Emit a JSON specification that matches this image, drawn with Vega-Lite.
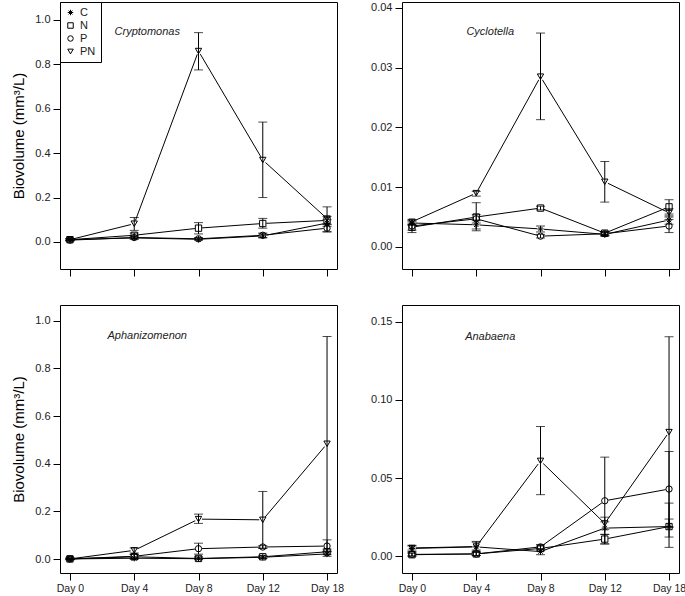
{
  "$schema": "https://vega.github.io/schema/vega-lite/v6.json",
  "background": "white",
  "padding": {"left": 11, "top": 1, "right": 0, "bottom": 0},
  "config": {
    "font": "Liberation Sans",
    "view": {"stroke": "black", "strokeWidth": 1},
    "axis": {"domain": false, "grid": false, "tickColor": "black", "tickSize": 7, "labelFontSize": 11, "labelColor": "#222", "labelPadding": 3, "titleFontWeight": "normal", "titleFontSize": 15, "titleColor": "black", "titlePadding": 8},
    "axisX": {"labelFontSize": 10.5}
  },
  "datasets": {
    "d": [
      {"taxon": "Cryptomonas", "trt": "C", "day": "Day 0", "mean": 0.010, "lo": 0.005, "hi": 0.015},
      {"taxon": "Cryptomonas", "trt": "C", "day": "Day 4", "mean": 0.018, "lo": 0.012, "hi": 0.025},
      {"taxon": "Cryptomonas", "trt": "C", "day": "Day 8", "mean": 0.012, "lo": 0.008, "hi": 0.016},
      {"taxon": "Cryptomonas", "trt": "C", "day": "Day 12", "mean": 0.027, "lo": 0.018, "hi": 0.036},
      {"taxon": "Cryptomonas", "trt": "C", "day": "Day 18", "mean": 0.085, "lo": 0.070, "hi": 0.100},
      {"taxon": "Cryptomonas", "trt": "N", "day": "Day 0", "mean": 0.010, "lo": 0.006, "hi": 0.014},
      {"taxon": "Cryptomonas", "trt": "N", "day": "Day 4", "mean": 0.030, "lo": 0.018, "hi": 0.040},
      {"taxon": "Cryptomonas", "trt": "N", "day": "Day 8", "mean": 0.062, "lo": 0.036, "hi": 0.087},
      {"taxon": "Cryptomonas", "trt": "N", "day": "Day 12", "mean": 0.083, "lo": 0.062, "hi": 0.106},
      {"taxon": "Cryptomonas", "trt": "N", "day": "Day 18", "mean": 0.097, "lo": 0.080, "hi": 0.115},
      {"taxon": "Cryptomonas", "trt": "P", "day": "Day 0", "mean": 0.008, "lo": 0.005, "hi": 0.012},
      {"taxon": "Cryptomonas", "trt": "P", "day": "Day 4", "mean": 0.020, "lo": 0.014, "hi": 0.028},
      {"taxon": "Cryptomonas", "trt": "P", "day": "Day 8", "mean": 0.014, "lo": 0.010, "hi": 0.020},
      {"taxon": "Cryptomonas", "trt": "P", "day": "Day 12", "mean": 0.030, "lo": 0.020, "hi": 0.040},
      {"taxon": "Cryptomonas", "trt": "P", "day": "Day 18", "mean": 0.062, "lo": 0.045, "hi": 0.078},
      {"taxon": "Cryptomonas", "trt": "PN", "day": "Day 0", "mean": 0.010, "lo": 0.006, "hi": 0.014},
      {"taxon": "Cryptomonas", "trt": "PN", "day": "Day 4", "mean": 0.082, "lo": 0.052, "hi": 0.110},
      {"taxon": "Cryptomonas", "trt": "PN", "day": "Day 8", "mean": 0.860, "lo": 0.775, "hi": 0.943},
      {"taxon": "Cryptomonas", "trt": "PN", "day": "Day 12", "mean": 0.369, "lo": 0.200, "hi": 0.540},
      {"taxon": "Cryptomonas", "trt": "PN", "day": "Day 18", "mean": 0.105, "lo": 0.046, "hi": 0.158},
      {"taxon": "Cyclotella", "trt": "C", "day": "Day 0", "mean": 0.0040, "lo": 0.0036, "hi": 0.0044},
      {"taxon": "Cyclotella", "trt": "C", "day": "Day 4", "mean": 0.0037, "lo": 0.0030, "hi": 0.0044},
      {"taxon": "Cyclotella", "trt": "C", "day": "Day 8", "mean": 0.0030, "lo": 0.0025, "hi": 0.0035},
      {"taxon": "Cyclotella", "trt": "C", "day": "Day 12", "mean": 0.0021, "lo": 0.0018, "hi": 0.0024},
      {"taxon": "Cyclotella", "trt": "C", "day": "Day 18", "mean": 0.0045, "lo": 0.0038, "hi": 0.0052},
      {"taxon": "Cyclotella", "trt": "N", "day": "Day 0", "mean": 0.0033, "lo": 0.0028, "hi": 0.0038},
      {"taxon": "Cyclotella", "trt": "N", "day": "Day 4", "mean": 0.0050, "lo": 0.0027, "hi": 0.0074},
      {"taxon": "Cyclotella", "trt": "N", "day": "Day 8", "mean": 0.0065, "lo": 0.0062, "hi": 0.0068},
      {"taxon": "Cyclotella", "trt": "N", "day": "Day 12", "mean": 0.0023, "lo": 0.0020, "hi": 0.0026},
      {"taxon": "Cyclotella", "trt": "N", "day": "Day 18", "mean": 0.0067, "lo": 0.0055, "hi": 0.0079},
      {"taxon": "Cyclotella", "trt": "P", "day": "Day 0", "mean": 0.0035, "lo": 0.0024, "hi": 0.0042},
      {"taxon": "Cyclotella", "trt": "P", "day": "Day 4", "mean": 0.0047, "lo": 0.0040, "hi": 0.0054},
      {"taxon": "Cyclotella", "trt": "P", "day": "Day 8", "mean": 0.0018, "lo": 0.0015, "hi": 0.0021},
      {"taxon": "Cyclotella", "trt": "P", "day": "Day 12", "mean": 0.0022, "lo": 0.0019, "hi": 0.0025},
      {"taxon": "Cyclotella", "trt": "P", "day": "Day 18", "mean": 0.0035, "lo": 0.0024, "hi": 0.0046},
      {"taxon": "Cyclotella", "trt": "PN", "day": "Day 0", "mean": 0.0042, "lo": 0.0038, "hi": 0.0046},
      {"taxon": "Cyclotella", "trt": "PN", "day": "Day 4", "mean": 0.0090, "lo": 0.0085, "hi": 0.0093},
      {"taxon": "Cyclotella", "trt": "PN", "day": "Day 8", "mean": 0.0285, "lo": 0.0213, "hi": 0.0358},
      {"taxon": "Cyclotella", "trt": "PN", "day": "Day 12", "mean": 0.0109, "lo": 0.0075, "hi": 0.0143},
      {"taxon": "Cyclotella", "trt": "PN", "day": "Day 18", "mean": 0.0057, "lo": 0.0050, "hi": 0.0064},
      {"taxon": "Aphanizomenon", "trt": "C", "day": "Day 0", "mean": 0.001, "lo": -0.002, "hi": 0.004},
      {"taxon": "Aphanizomenon", "trt": "C", "day": "Day 4", "mean": 0.004, "lo": 0.000, "hi": 0.008},
      {"taxon": "Aphanizomenon", "trt": "C", "day": "Day 8", "mean": 0.002, "lo": 0.000, "hi": 0.005},
      {"taxon": "Aphanizomenon", "trt": "C", "day": "Day 12", "mean": 0.008, "lo": 0.003, "hi": 0.013},
      {"taxon": "Aphanizomenon", "trt": "C", "day": "Day 18", "mean": 0.022, "lo": 0.012, "hi": 0.032},
      {"taxon": "Aphanizomenon", "trt": "N", "day": "Day 0", "mean": 0.001, "lo": -0.002, "hi": 0.004},
      {"taxon": "Aphanizomenon", "trt": "N", "day": "Day 4", "mean": 0.010, "lo": 0.002, "hi": 0.020},
      {"taxon": "Aphanizomenon", "trt": "N", "day": "Day 8", "mean": 0.003, "lo": 0.000, "hi": 0.010},
      {"taxon": "Aphanizomenon", "trt": "N", "day": "Day 12", "mean": 0.010, "lo": 0.004, "hi": 0.016},
      {"taxon": "Aphanizomenon", "trt": "N", "day": "Day 18", "mean": 0.031, "lo": 0.020, "hi": 0.042},
      {"taxon": "Aphanizomenon", "trt": "P", "day": "Day 0", "mean": 0.001, "lo": -0.002, "hi": 0.004},
      {"taxon": "Aphanizomenon", "trt": "P", "day": "Day 4", "mean": 0.012, "lo": 0.004, "hi": 0.020},
      {"taxon": "Aphanizomenon", "trt": "P", "day": "Day 8", "mean": 0.044, "lo": 0.021, "hi": 0.067},
      {"taxon": "Aphanizomenon", "trt": "P", "day": "Day 12", "mean": 0.051, "lo": 0.045, "hi": 0.057},
      {"taxon": "Aphanizomenon", "trt": "P", "day": "Day 18", "mean": 0.055, "lo": 0.030, "hi": 0.081},
      {"taxon": "Aphanizomenon", "trt": "PN", "day": "Day 0", "mean": 0.001, "lo": -0.002, "hi": 0.004},
      {"taxon": "Aphanizomenon", "trt": "PN", "day": "Day 4", "mean": 0.037, "lo": 0.026, "hi": 0.047},
      {"taxon": "Aphanizomenon", "trt": "PN", "day": "Day 8", "mean": 0.168, "lo": 0.150, "hi": 0.189},
      {"taxon": "Aphanizomenon", "trt": "PN", "day": "Day 12", "mean": 0.165, "lo": 0.046, "hi": 0.284},
      {"taxon": "Aphanizomenon", "trt": "PN", "day": "Day 18", "mean": 0.484, "lo": 0.034, "hi": 0.934},
      {"taxon": "Anabaena", "trt": "C", "day": "Day 0", "mean": 0.0050, "lo": 0.0030, "hi": 0.0070},
      {"taxon": "Anabaena", "trt": "C", "day": "Day 4", "mean": 0.0060, "lo": 0.0030, "hi": 0.0095},
      {"taxon": "Anabaena", "trt": "C", "day": "Day 8", "mean": 0.0030, "lo": 0.0010, "hi": 0.0050},
      {"taxon": "Anabaena", "trt": "C", "day": "Day 12", "mean": 0.0180, "lo": 0.0140, "hi": 0.0220},
      {"taxon": "Anabaena", "trt": "C", "day": "Day 18", "mean": 0.0190, "lo": 0.0057, "hi": 0.0340},
      {"taxon": "Anabaena", "trt": "N", "day": "Day 0", "mean": 0.0010, "lo": 0.0000, "hi": 0.0020},
      {"taxon": "Anabaena", "trt": "N", "day": "Day 4", "mean": 0.0015, "lo": 0.0005, "hi": 0.0025},
      {"taxon": "Anabaena", "trt": "N", "day": "Day 8", "mean": 0.0050, "lo": 0.0035, "hi": 0.0065},
      {"taxon": "Anabaena", "trt": "N", "day": "Day 12", "mean": 0.0110, "lo": 0.0080, "hi": 0.0140},
      {"taxon": "Anabaena", "trt": "N", "day": "Day 18", "mean": 0.0190, "lo": 0.0123, "hi": 0.0238},
      {"taxon": "Anabaena", "trt": "P", "day": "Day 0", "mean": 0.0012, "lo": 0.0003, "hi": 0.0021},
      {"taxon": "Anabaena", "trt": "P", "day": "Day 4", "mean": 0.0015, "lo": 0.0005, "hi": 0.0025},
      {"taxon": "Anabaena", "trt": "P", "day": "Day 8", "mean": 0.0060, "lo": 0.0045, "hi": 0.0075},
      {"taxon": "Anabaena", "trt": "P", "day": "Day 12", "mean": 0.0355, "lo": 0.0078, "hi": 0.0634},
      {"taxon": "Anabaena", "trt": "P", "day": "Day 18", "mean": 0.0430, "lo": 0.0190, "hi": 0.0670},
      {"taxon": "Anabaena", "trt": "PN", "day": "Day 0", "mean": 0.0053, "lo": 0.0040, "hi": 0.0066},
      {"taxon": "Anabaena", "trt": "PN", "day": "Day 4", "mean": 0.0062, "lo": 0.0040, "hi": 0.0090},
      {"taxon": "Anabaena", "trt": "PN", "day": "Day 8", "mean": 0.0610, "lo": 0.0394, "hi": 0.0830},
      {"taxon": "Anabaena", "trt": "PN", "day": "Day 12", "mean": 0.0210, "lo": 0.0170, "hi": 0.0250},
      {"taxon": "Anabaena", "trt": "PN", "day": "Day 18", "mean": 0.0794, "lo": 0.0184, "hi": 0.1404}
    ],
    "labels": [
      {"taxon": "Cryptomonas", "label": "Cryptomonas"},
      {"taxon": "Cyclotella", "label": "Cyclotella"},
      {"taxon": "Aphanizomenon", "label": "Aphanizomenon"},
      {"taxon": "Anabaena", "label": "Anabaena"}
    ]
  },
  "resolve": {"legend": {"shape": "independent"}},
  "columns": 2,
  "bounds": "flush",
  "align": "none",
  "spacing": {"row": 36, "column": 65},
  "concat": [
    {
      "width": 277, "height": 267,
      "layer": [
        {
          "data": {"name": "d"},
          "transform": [{"filter": "datum.taxon == 'Cryptomonas'"}],
          "mark": {"type": "line", "color": "black", "strokeWidth": 1},
          "encoding": {
            "x": {"field": "day", "type": "ordinal", "sort": ["Day 0", "Day 4", "Day 8", "Day 12", "Day 18"], "scale": {"type": "point", "padding": 0.155}, "axis": {"title": null, "labels": false, "labelAngle": 0}},
            "y": {"field": "mean", "type": "quantitative", "title": "Biovolume (mm³/L)", "scale": {"domain": [-0.122, 1.081], "nice": false, "zero": false}, "axis": {"values": [0, 0.2, 0.4, 0.6, 0.8, 1.0], "format": ".1f"}},
            "detail": {"field": "trt"}
          }
        },
        {
          "data": {"name": "d"},
          "transform": [{"filter": "datum.taxon == 'Cryptomonas'"}],
          "mark": {"type": "circle", "color": "white", "size": 50, "opacity": 1},
          "encoding": {
            "x": {"field": "day", "type": "ordinal", "sort": ["Day 0", "Day 4", "Day 8", "Day 12", "Day 18"]},
            "y": {"field": "mean", "type": "quantitative", "title": "Biovolume (mm³/L)"}
          }
        },
        {
          "data": {"name": "d"},
          "transform": [{"filter": "datum.taxon == 'Cryptomonas'"}],
          "mark": {"type": "point", "filled": false, "color": "black", "strokeWidth": 1, "size": 40, "opacity": 1},
          "encoding": {
            "x": {"field": "day", "type": "ordinal", "sort": ["Day 0", "Day 4", "Day 8", "Day 12", "Day 18"]},
            "y": {"field": "mean", "type": "quantitative", "title": "Biovolume (mm³/L)"},
            "shape": {"field": "trt", "type": "nominal", "scale": {"domain": ["C", "N", "P", "PN"], "range": ["M-1,0L1,0M0,-1L0,1M-0.7,-0.7L0.7,0.7M-0.7,0.7L0.7,-0.7", "square", "circle", "triangle-down"]},
              "legend": {"orient": "top-left", "offset": 0, "title": null, "strokeColor": "black", "fillColor": "white", "padding": 5, "rowPadding": 1, "labelFontSize": 11, "labelColor": "#222", "labelOffset": 4, "symbolStrokeColor": "black", "symbolStrokeWidth": 1, "symbolSize": 30, "cornerRadius": 0}}
          }
        },
        {
          "data": {"name": "d"},
          "transform": [{"filter": "datum.taxon == 'Cryptomonas'"}],
          "mark": {"type": "errorbar", "ticks": {"size": 9, "thickness": 1}, "color": "black", "thickness": 1},
          "encoding": {
            "x": {"field": "day", "type": "ordinal", "sort": ["Day 0", "Day 4", "Day 8", "Day 12", "Day 18"]},
            "y": {"field": "lo", "type": "quantitative", "title": "Biovolume (mm³/L)"},
            "y2": {"field": "hi"}
          }
        },
        {
          "data": {"name": "labels"},
          "transform": [{"filter": "datum.taxon == 'Cryptomonas'"}],
          "mark": {"type": "text", "fontStyle": "italic", "fontSize": 11, "color": "#222", "align": "center", "dx": 13},
          "encoding": {
            "x": {"datum": "Day 4", "type": "ordinal"},
            "y": {"datum": 0.946, "type": "quantitative", "title": "Biovolume (mm³/L)"},
            "text": {"field": "label"}
          }
        }
      ]
    },
    {
      "width": 277, "height": 267,
      "layer": [
        {
          "data": {"name": "d"},
          "transform": [{"filter": "datum.taxon == 'Cyclotella'"}],
          "mark": {"type": "line", "color": "black", "strokeWidth": 1},
          "encoding": {
            "x": {"field": "day", "type": "ordinal", "sort": ["Day 0", "Day 4", "Day 8", "Day 12", "Day 18"], "scale": {"type": "point", "padding": 0.155}, "axis": {"title": null, "labels": false, "labelAngle": 0}},
            "y": {"field": "mean", "type": "quantitative", "title": null, "scale": {"domain": [-0.0037, 0.041], "nice": false, "zero": false}, "axis": {"values": [0, 0.01, 0.02, 0.03, 0.04], "format": ".2f"}},
            "detail": {"field": "trt"}
          }
        },
        {
          "data": {"name": "d"},
          "transform": [{"filter": "datum.taxon == 'Cyclotella'"}],
          "mark": {"type": "circle", "color": "white", "size": 50, "opacity": 1},
          "encoding": {
            "x": {"field": "day", "type": "ordinal", "sort": ["Day 0", "Day 4", "Day 8", "Day 12", "Day 18"]},
            "y": {"field": "mean", "type": "quantitative", "title": null}
          }
        },
        {
          "data": {"name": "d"},
          "transform": [{"filter": "datum.taxon == 'Cyclotella'"}],
          "mark": {"type": "point", "filled": false, "color": "black", "strokeWidth": 1, "size": 40, "opacity": 1},
          "encoding": {
            "x": {"field": "day", "type": "ordinal", "sort": ["Day 0", "Day 4", "Day 8", "Day 12", "Day 18"]},
            "y": {"field": "mean", "type": "quantitative", "title": null},
            "shape": {"field": "trt", "type": "nominal", "legend": null}
          }
        },
        {
          "data": {"name": "d"},
          "transform": [{"filter": "datum.taxon == 'Cyclotella'"}],
          "mark": {"type": "errorbar", "ticks": {"size": 9, "thickness": 1}, "color": "black", "thickness": 1},
          "encoding": {
            "x": {"field": "day", "type": "ordinal", "sort": ["Day 0", "Day 4", "Day 8", "Day 12", "Day 18"]},
            "y": {"field": "lo", "type": "quantitative", "title": null},
            "y2": {"field": "hi"}
          }
        },
        {
          "data": {"name": "labels"},
          "transform": [{"filter": "datum.taxon == 'Cyclotella'"}],
          "mark": {"type": "text", "fontStyle": "italic", "fontSize": 11, "color": "#222", "align": "center", "dx": 14},
          "encoding": {
            "x": {"datum": "Day 4", "type": "ordinal"},
            "y": {"datum": 0.0359, "type": "quantitative", "title": null},
            "text": {"field": "label"}
          }
        }
      ]
    },
    {
      "width": 277, "height": 268,
      "layer": [
        {
          "data": {"name": "d"},
          "transform": [{"filter": "datum.taxon == 'Aphanizomenon'"}],
          "mark": {"type": "line", "color": "black", "strokeWidth": 1},
          "encoding": {
            "x": {"field": "day", "type": "ordinal", "sort": ["Day 0", "Day 4", "Day 8", "Day 12", "Day 18"], "scale": {"type": "point", "padding": 0.155}, "axis": {"title": null, "labelAngle": 0}},
            "y": {"field": "mean", "type": "quantitative", "title": "Biovolume (mm³/L)", "scale": {"domain": [-0.058, 1.066], "nice": false, "zero": false}, "axis": {"values": [0, 0.2, 0.4, 0.6, 0.8, 1.0], "format": ".1f"}},
            "detail": {"field": "trt"}
          }
        },
        {
          "data": {"name": "d"},
          "transform": [{"filter": "datum.taxon == 'Aphanizomenon'"}],
          "mark": {"type": "circle", "color": "white", "size": 50, "opacity": 1},
          "encoding": {
            "x": {"field": "day", "type": "ordinal", "sort": ["Day 0", "Day 4", "Day 8", "Day 12", "Day 18"]},
            "y": {"field": "mean", "type": "quantitative", "title": "Biovolume (mm³/L)"}
          }
        },
        {
          "data": {"name": "d"},
          "transform": [{"filter": "datum.taxon == 'Aphanizomenon'"}],
          "mark": {"type": "point", "filled": false, "color": "black", "strokeWidth": 1, "size": 40, "opacity": 1},
          "encoding": {
            "x": {"field": "day", "type": "ordinal", "sort": ["Day 0", "Day 4", "Day 8", "Day 12", "Day 18"]},
            "y": {"field": "mean", "type": "quantitative", "title": "Biovolume (mm³/L)"},
            "shape": {"field": "trt", "type": "nominal", "legend": null}
          }
        },
        {
          "data": {"name": "d"},
          "transform": [{"filter": "datum.taxon == 'Aphanizomenon'"}],
          "mark": {"type": "errorbar", "ticks": {"size": 9, "thickness": 1}, "color": "black", "thickness": 1},
          "encoding": {
            "x": {"field": "day", "type": "ordinal", "sort": ["Day 0", "Day 4", "Day 8", "Day 12", "Day 18"]},
            "y": {"field": "lo", "type": "quantitative", "title": "Biovolume (mm³/L)"},
            "y2": {"field": "hi"}
          }
        },
        {
          "data": {"name": "labels"},
          "transform": [{"filter": "datum.taxon == 'Aphanizomenon'"}],
          "mark": {"type": "text", "fontStyle": "italic", "fontSize": 11, "color": "#222", "align": "center", "dx": 13},
          "encoding": {
            "x": {"datum": "Day 4", "type": "ordinal"},
            "y": {"datum": 0.934, "type": "quantitative", "title": "Biovolume (mm³/L)"},
            "text": {"field": "label"}
          }
        }
      ]
    },
    {
      "width": 277, "height": 268,
      "layer": [
        {
          "data": {"name": "d"},
          "transform": [{"filter": "datum.taxon == 'Anabaena'"}],
          "mark": {"type": "line", "color": "black", "strokeWidth": 1},
          "encoding": {
            "x": {"field": "day", "type": "ordinal", "sort": ["Day 0", "Day 4", "Day 8", "Day 12", "Day 18"], "scale": {"type": "point", "padding": 0.155}, "axis": {"title": null, "labelAngle": 0}},
            "y": {"field": "mean", "type": "quantitative", "title": null, "scale": {"domain": [-0.0107, 0.1607], "nice": false, "zero": false}, "axis": {"values": [0, 0.05, 0.1, 0.15], "format": ".2f"}},
            "detail": {"field": "trt"}
          }
        },
        {
          "data": {"name": "d"},
          "transform": [{"filter": "datum.taxon == 'Anabaena'"}],
          "mark": {"type": "circle", "color": "white", "size": 50, "opacity": 1},
          "encoding": {
            "x": {"field": "day", "type": "ordinal", "sort": ["Day 0", "Day 4", "Day 8", "Day 12", "Day 18"]},
            "y": {"field": "mean", "type": "quantitative", "title": null}
          }
        },
        {
          "data": {"name": "d"},
          "transform": [{"filter": "datum.taxon == 'Anabaena'"}],
          "mark": {"type": "point", "filled": false, "color": "black", "strokeWidth": 1, "size": 40, "opacity": 1},
          "encoding": {
            "x": {"field": "day", "type": "ordinal", "sort": ["Day 0", "Day 4", "Day 8", "Day 12", "Day 18"]},
            "y": {"field": "mean", "type": "quantitative", "title": null},
            "shape": {"field": "trt", "type": "nominal", "legend": null}
          }
        },
        {
          "data": {"name": "d"},
          "transform": [{"filter": "datum.taxon == 'Anabaena'"}],
          "mark": {"type": "errorbar", "ticks": {"size": 9, "thickness": 1}, "color": "black", "thickness": 1},
          "encoding": {
            "x": {"field": "day", "type": "ordinal", "sort": ["Day 0", "Day 4", "Day 8", "Day 12", "Day 18"]},
            "y": {"field": "lo", "type": "quantitative", "title": null},
            "y2": {"field": "hi"}
          }
        },
        {
          "data": {"name": "labels"},
          "transform": [{"filter": "datum.taxon == 'Anabaena'"}],
          "mark": {"type": "text", "fontStyle": "italic", "fontSize": 11, "color": "#222", "align": "center", "dx": 14},
          "encoding": {
            "x": {"datum": "Day 4", "type": "ordinal"},
            "y": {"datum": 0.140, "type": "quantitative", "title": null},
            "text": {"field": "label"}
          }
        }
      ]
    }
  ]
}
